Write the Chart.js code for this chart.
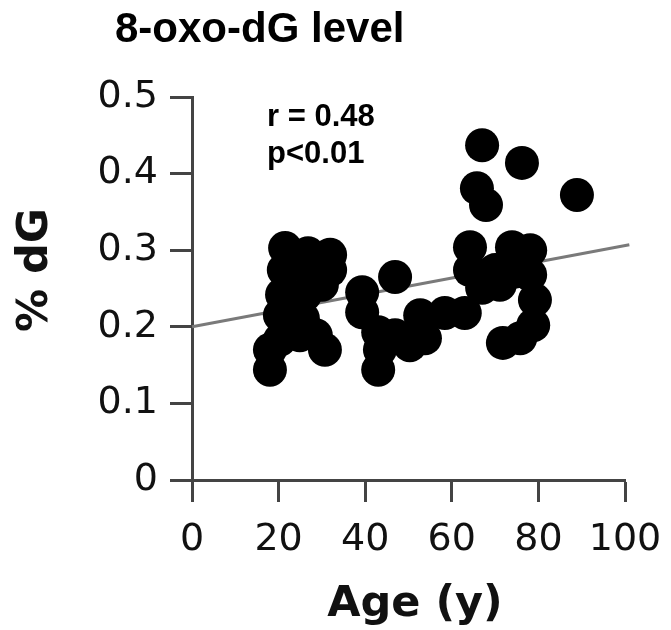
<!DOCTYPE html>
<html>
<head>
<meta charset="utf-8">
<script src="https://cdn.jsdelivr.net/npm/chart.js@4"></script>
<style>
html,body{margin:0;padding:0;background:#fff;}
#wrap{width:671px;height:630px;}
</style>
</head>
<body>
<div id="wrap"><canvas id="c" width="671" height="630"></canvas></div>
<script>
// ---- data ----
const ages = [21.5, 26.8, 31.9, 21.2, 27.3, 31.9, 20.8, 26.1, 30.0, 20.3, 25.6, 24.9, 18.0, 18.0, 30.7, 20.3, 28.6,
              46.9, 39.3, 39.3, 43.0, 43.4, 46.9, 52.7, 53.8, 50.3, 43.0,
              64.2, 73.9, 78.1, 64.2, 70.0, 78.1, 67.0, 79.2, 78.8, 63.0, 58.4, 71.8, 75.8, 71.1, 74.6,
              67.0, 76.2, 65.8, 67.9, 88.9];
const dGValues = [0.303, 0.296, 0.294, 0.274, 0.274, 0.274, 0.242, 0.242, 0.255, 0.215, 0.211, 0.189, 0.170, 0.144, 0.170, 0.183, 0.189,
                  0.265, 0.245, 0.219, 0.144, 0.170, 0.189, 0.215, 0.185, 0.176, 0.193,
                  0.304, 0.304, 0.300, 0.274, 0.274, 0.268, 0.251, 0.235, 0.202, 0.218, 0.218, 0.179, 0.185, 0.255, 0.272,
                  0.437, 0.414, 0.381, 0.359, 0.372];
const fitAges = [0, 101];
const fitValues = [0.200, 0.307];
const xTickLabels = ['0', '20', '40', '60', '80', '100'];
const yTickLabels = ['0', '0.1', '0.2', '0.3', '0.4', '0.5'];
const titleText = '8-oxo-dG level';
const statLines = ['r = 0.48', 'p<0.01'];
const xTitle = 'Age (y)';
const yTitle = '% dG';

const pts = ages.map((a, i) => ({x: a, y: dGValues[i]}));
const fit = fitAges.map((a, i) => ({x: a, y: fitValues[i]}));

const bgPlugin = {
  id: 'bg',
  beforeDraw(chart) {
    const ctx = chart.ctx;
    ctx.save();
    ctx.fillStyle = '#fff';
    ctx.fillRect(0, 0, chart.width, chart.height);
    ctx.restore();
  }
};

const textPlugin = {
  id: 'texts',
  afterDraw(chart) {
    const ctx = chart.ctx;
    ctx.save();
    ctx.fillStyle = '#000';
    ctx.textAlign = 'left';
    ctx.textBaseline = 'alphabetic';
    ctx.font = 'bold 42px "Liberation Sans", Arial, sans-serif';
    ctx.fillText(titleText, 115, 42);
    ctx.font = 'bold 31px "Liberation Sans", Arial, sans-serif';
    ctx.fillText(statLines[0], 267, 126);
    ctx.fillText(statLines[1], 267, 163);
    ctx.fillStyle = '#111';
    ctx.font = 'bold 43px "DejaVu Sans", sans-serif';
    ctx.textAlign = 'center';
    ctx.fillText(xTitle, 415, 616);
    ctx.translate(36, 270);
    ctx.rotate(-Math.PI / 2);
    ctx.textBaseline = 'middle';
    ctx.fillText(yTitle, 0, 0);
    ctx.restore();
  }
};

function zeroPad(s) {
  s.paddingLeft = 0; s.paddingRight = 0; s.paddingTop = 0; s.paddingBottom = 0;
}

new Chart(document.getElementById('c'), {
  type: 'scatter',
  data: {
    datasets: [
      {
        data: pts,
        backgroundColor: '#000',
        borderWidth: 0,
        pointRadius: 17,
        pointHoverRadius: 17,
        order: 0
      },
      {
        data: fit,
        showLine: true,
        borderColor: '#7a7a7a',
        borderWidth: 3,
        pointRadius: 0,
        fill: false,
        clip: false,
        order: 1
      }
    ]
  },
  options: {
    responsive: false,
    animation: false,
    events: [],
    layout: {padding: {left: 0, top: 97, right: 46, bottom: 0}},
    plugins: {legend: {display: false}, tooltip: {enabled: false}, title: {display: false}},
    scales: {
      x: {
        type: 'linear',
        min: 0, max: 100,
        afterFit(s) { s.height = 150; zeroPad(s); },
        border: {display: true, color: '#444', width: 3},
        grid: {display: true, drawOnChartArea: false, drawTicks: true, tickLength: 22, tickWidth: 3, tickColor: '#444'},
        ticks: {
          stepSize: 20,
          padding: 15,
          color: '#111',
          font: {family: '"DejaVu Sans", sans-serif', size: 38},
          maxRotation: 0,
          autoSkip: false,
          callback: (v, i) => xTickLabels[i]
        }
      },
      y: {
        type: 'linear',
        min: 0, max: 0.5,
        afterFit(s) { s.width = 192; zeroPad(s); },
        border: {display: true, color: '#444', width: 3},
        grid: {display: true, drawOnChartArea: false, drawTicks: true, tickLength: 22, tickWidth: 3, tickColor: '#444'},
        ticks: {
          stepSize: 0.1,
          padding: 12,
          color: '#111',
          font: {family: '"DejaVu Sans", sans-serif', size: 38},
          autoSkip: false,
          callback: (v, i) => yTickLabels[i]
        }
      }
    }
  },
  plugins: [bgPlugin, textPlugin]
});
</script>
</body>
</html>
